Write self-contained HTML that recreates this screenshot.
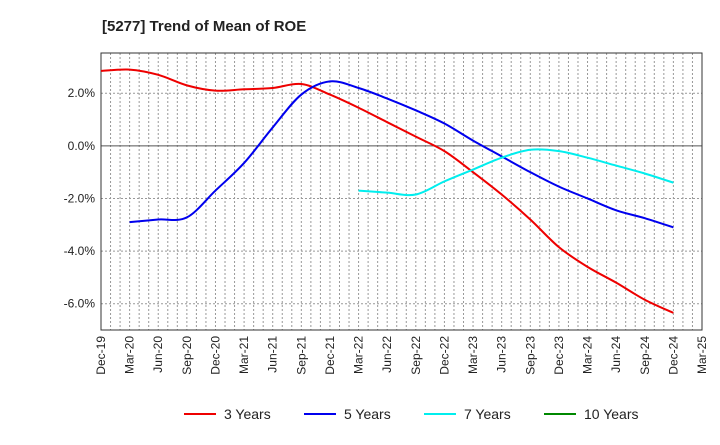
<!DOCTYPE html>
<html><head><meta charset="utf-8"><style>
body{margin:0;background:#fff;font-family:"Liberation Sans",sans-serif;}
</style></head><body>
<svg id="c" width="720" height="440" xmlns="http://www.w3.org/2000/svg">
<text x="102" y="31" font-size="15" font-weight="bold" fill="#222">[5277]  Trend of Mean of ROE</text>
</svg>
<script>
const categories=["Dec-19","Mar-20","Jun-20","Sep-20","Dec-20","Mar-21","Jun-21","Sep-21","Dec-21","Mar-22","Jun-22","Sep-22","Dec-22","Mar-23","Jun-23","Sep-23","Dec-23","Mar-24","Jun-24","Sep-24","Dec-24","Mar-25"];
const yTicks=[2,0,-2,-4,-6];
const yTickLabels=["2.0%","0.0%","-2.0%","-4.0%","-6.0%"];
const s3=[2.85,2.9,2.7,2.3,2.1,2.15,2.2,2.35,1.95,1.45,0.9,0.35,-0.2,-1.0,-1.85,-2.8,-3.85,-4.6,-5.2,-5.85,-6.35,null];
const s5=[null,-2.9,-2.8,-2.72,-1.7,-0.65,0.7,1.95,2.45,2.2,1.8,1.35,0.85,0.2,-0.4,-1.0,-1.55,-2.0,-2.45,-2.75,-3.1,null];
const s7=[null,null,null,null,null,null,null,null,null,-1.7,-1.78,-1.85,-1.35,-0.9,-0.45,-0.15,-0.2,-0.45,-0.75,-1.05,-1.4,null];
const s10=[];
const svg=document.getElementById('c');const NS="http://www.w3.org/2000/svg";
const L=101,R=702,T=53,B=330,yMax=3.53,yMin=-7.0;
const x=i=>L+(R-L)*i/(categories.length-1);
const y=v=>T+(B-T)*(yMax-v)/(yMax-yMin);
function mk(t,a){const e=document.createElementNS(NS,t);for(const k in a)e.setAttribute(k,a[k]);svg.appendChild(e);return e;}
// monthly vertical grid
for(let m=1;m<(categories.length-1)*3;m++){const xx=L+(R-L)*m/((categories.length-1)*3);
const g=mk('line',{x1:xx,x2:xx,y1:T,y2:B,stroke:'#999','stroke-dasharray':'2,2','stroke-width':1});

}
yTicks.forEach((v,i)=>{const g=mk('line',{x1:L,x2:R,y1:y(v),y2:y(v),stroke:v===0?'#555':'#999','stroke-dasharray':v===0?'none':'2,2','stroke-width':1});


const t=mk('text',{x:L-6,y:y(v)+4,'text-anchor':'end','font-size':12,fill:'#222'});t.textContent=yTickLabels[i];

});
categories.forEach((c,i)=>{const t=mk('text',{transform:`translate(${x(i)+4},${B+6}) rotate(-90)`,'text-anchor':'end','font-size':12,fill:'#222'});t.textContent=c;

});
const fr=mk('rect',{x:L,y:T,width:R-L,height:B-T,fill:'none',stroke:'#333','stroke-width':1});


function path(arr){const p=[];arr.forEach((v,i)=>{if(v!=null)p.push([x(i),y(v)]);});if(p.length<2)return '';
let d=`M${p[0][0]},${p[0][1]}`;for(let i=0;i<p.length-1;i++){const p0=p[i-1]||p[i],p1=p[i],p2=p[i+1],p3=p[i+2]||p2;
d+=`C${p1[0]+(p2[0]-p0[0])/6},${p1[1]+(p2[1]-p0[1])/6} ${p2[0]-(p3[0]-p1[0])/6},${p2[1]-(p3[1]-p1[1])/6} ${p2[0]},${p2[1]}`;}return d;}
[[s3,'#ee0000','line-3-years'],[s5,'#0000ee','line-5-years'],[s7,'#00eeee','line-7-years'],[s10,'#008800','line-10-years']].forEach(([a,c,n])=>{const d=path(a);if(!d)return;
const e=mk('path',{d:d,fill:'none',stroke:c,'stroke-width':2});

});
[['3 Years','#ee0000',184],['5 Years','#0000ee',304],['7 Years','#00eeee',424],['10 Years','#008800',544]].forEach(([lab,c,lx])=>{
const l=mk('line',{x1:lx,x2:lx+32,y1:414,y2:414,stroke:c,'stroke-width':2});


const t=mk('text',{x:lx+40,y:419,'font-size':14,fill:'#222'});t.textContent=lab;

});
</script>
</body></html>
